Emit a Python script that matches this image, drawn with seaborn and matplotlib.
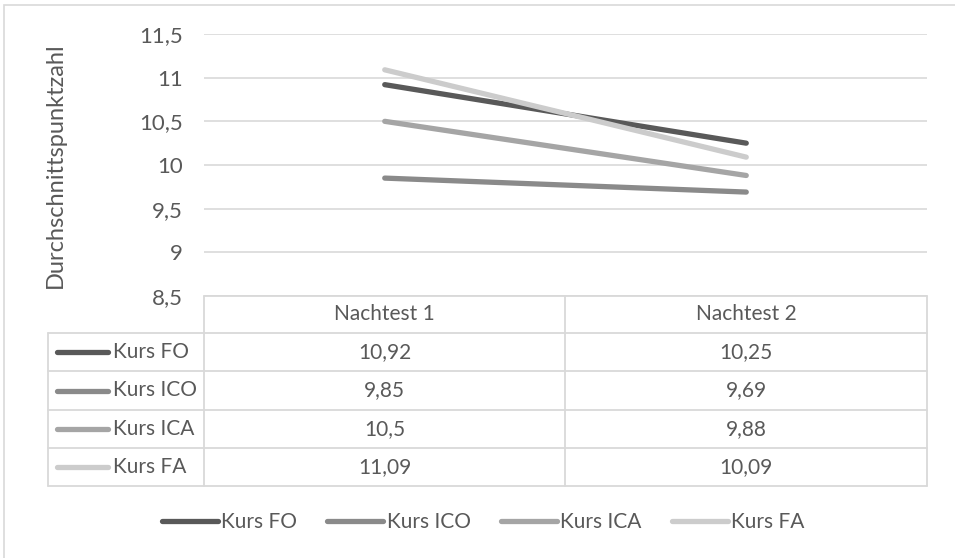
import matplotlib
matplotlib.use("Agg")
import matplotlib.pyplot as plt
import seaborn as sns
import pandas as pd
from matplotlib.patches import Rectangle
from matplotlib.lines import Line2D

categories = ["Nachtest 1", "Nachtest 2"]
series_names = ["Kurs FO", "Kurs ICO", "Kurs ICA", "Kurs FA"]
kurs_fo = [10.92, 10.25]
kurs_ico = [9.85, 9.69]
kurs_ica = [10.5, 9.88]
kurs_fa = [11.09, 10.09]
y_ticks = [8.5, 9, 9.5, 10, 10.5, 11, 11.5]
y_label = "Durchschnittspunktzahl"
colors = ["#595959", "#8a8a8a", "#a5a5a5", "#cccccc"]

series_values = [kurs_fo, kurs_ico, kurs_ica, kurs_fa]
rows = []
for name, vals in zip(series_names, series_values):
    for i, (c, v) in enumerate(zip(categories, vals)):
        rows.append({"Serie": name, "pos": i, "Kategorie": c, "Wert": v})
df = pd.DataFrame(rows)

sns.set_theme(style="white")
plt.rcParams["font.family"] = ["Lato", "DejaVu Sans"]
TXT = "#595959"
GRID = "#d9d9d9"
FS = 15
FS_TICK = 16
FS_LABEL = 17

W, H = 955, 558
fig = plt.figure(figsize=(W / 100, H / 100), dpi=100)

def fx(px):
    return px / W

def fy(py):
    return 1 - py / H

# outer border
fig.patches.append(Rectangle((fx(4), fy(565)), fx(970) - fx(4), fy(5) - fy(565),
                             transform=fig.transFigure, fill=False,
                             edgecolor=GRID, linewidth=1.2))

# main plot axes
L, R, T, B = 204, 927, 34, 296
ax = fig.add_axes([fx(L), fy(B), fx(R) - fx(L), fy(T) - fy(B)])
sns.lineplot(data=df, x="pos", y="Wert", hue="Serie", hue_order=series_names,
             palette=colors, linewidth=3.8, ax=ax, legend=False,
             solid_capstyle="round")
ax.set_xlim(-0.5, 1.5)
ax.set_ylim(8.5, 11.5)
ax.set_yticks(y_ticks)
ax.set_yticklabels([f"{t:g}".replace(".", ",") for t in y_ticks],
                   color=TXT, fontsize=FS_TICK)
ax.tick_params(axis="y", length=0, pad=15.5)
ax.set_xticks([])
ax.set_xlabel("")
ax.set_ylabel(y_label, color=TXT, fontsize=FS_LABEL)
ax.yaxis.set_label_coords((66 - L) / (R - L), 0.5)
for s in ax.spines.values():
    s.set_visible(False)
ax.yaxis.grid(True, color=GRID, linewidth=1.2)
ax.set_axisbelow(True)

# data table axes (pixel coordinates)
TL, TT, TB = 48, 296, 486
tax = fig.add_axes([fx(TL), fy(TB), fx(R) - fx(TL), fy(TT) - fy(TB)])
tax.set_xlim(TL, R)
tax.set_ylim(TB, TT)
tax.axis("off")
col_edges = [L, 565, R]
row_edges = [296, 333, 371, 410, 448, 486]
lw = 1.3
tax.plot([L, R], [row_edges[0]] * 2, color=GRID, lw=lw, clip_on=False)
for ry in row_edges[1:]:
    tax.plot([TL, R], [ry, ry], color=GRID, lw=lw, clip_on=False)
tax.plot([TL, TL], [row_edges[1], row_edges[-1]], color=GRID, lw=lw, clip_on=False)
for cx in col_edges:
    tax.plot([cx, cx], [row_edges[0], row_edges[-1]], color=GRID, lw=lw, clip_on=False)

for j, c in enumerate(categories):
    xc = (col_edges[j] + col_edges[j + 1]) / 2
    yc = (row_edges[0] + row_edges[1]) / 2
    tax.text(xc, yc, c, ha="center", va="center", color=TXT, fontsize=FS)

for i, (name, vals, col) in enumerate(zip(series_names, series_values, colors)):
    yc = (row_edges[i + 1] + row_edges[i + 2]) / 2
    tax.plot([57, 108], [yc, yc], color=col, lw=3.8, solid_capstyle="round", clip_on=False)
    tax.text(113, yc, name, ha="left", va="center", color=TXT, fontsize=FS)
    for j, v in enumerate(vals):
        xc = (col_edges[j] + col_edges[j + 1]) / 2
        tax.text(xc, yc, f"{v:g}".replace(".", ","), ha="center", va="center",
                 color=TXT, fontsize=FS)

# legend
handles = [Line2D([0], [0], color=c, lw=3.8, solid_capstyle="round") for c in colors]
fig.legend(handles, series_names, loc="center", bbox_to_anchor=(fx(483), fy(522)),
           ncol=4, frameon=False, fontsize=FS, labelcolor=TXT,
           handlelength=2.7, handletextpad=0.15, columnspacing=1.45)

fig.savefig("out.png", dpi=100)
